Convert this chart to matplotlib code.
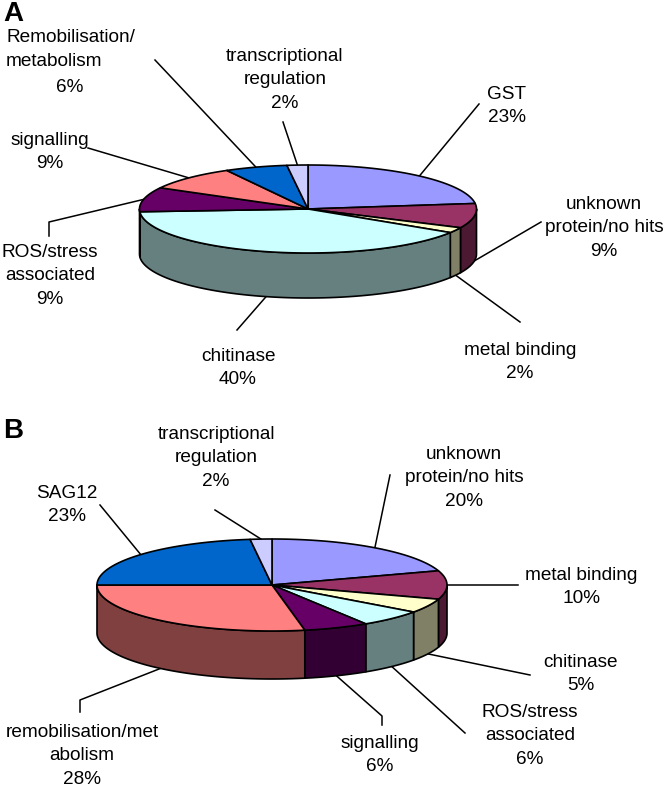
import numpy as np
import matplotlib
matplotlib.use('Agg')
import matplotlib.pyplot as plt

plt.rcParams['font.family'] = ['Liberation Sans', 'DejaVu Sans']

# top slice colours and the darker colours of the walls
top_colors = ['#9999FF', '#993366', '#FFFFCC', '#CCFFFF', '#660066', '#FF8080', '#0066CC', '#CCCCFF']
side_colors = ['#4C4C80', '#4C1933', '#808066', '#668080', '#330033', '#804040', '#003366', '#666680']

# pie A
labels_a = ['GST\n23%', 'unknown\nprotein/no hits\n9%', 'metal binding\n2%', 'chitinase\n40%',
            'ROS/stress\nassociated\n9%', 'signalling\n9%', 'Remobilisation/\nmetabolism\n6%',
            'transcriptional\nregulation\n2%']
values_a = [23, 9, 2, 40, 9, 9, 6, 2]
label_pos_a = [(507, 106), (604, 228), (520, 362), (238, 368), (50, 276), (50, 152), (70, 62), (285, 80)]
# where the leader lines end, next to the labels
leader_a = [[(479, 104)], [(541, 222)], [(520, 322)], [(237, 330)], [(49, 222), (49, 236)], [(88, 148)],
            [(155, 60)], [(283, 122)]]

# pie B
labels_b = ['unknown\nprotein/no hits\n20%', 'metal binding\n10%', 'chitinase\n5%', 'ROS/stress\nassociated\n6%',
            'signalling\n6%', 'remobilisation/met\nabolism\n28%', 'SAG12\n23%', 'transcriptional\nregulation\n2%']
values_b = [20, 10, 5, 6, 6, 28, 23, 2]
label_pos_b = [(464, 478), (581, 587), (581, 674), (530, 736), (380, 755), (82, 756), (67, 505), (216, 458)]
leader_b = [[(390, 475)], [(518, 585)], [(530, 675)], [(465, 733)], [(382, 716), (382, 725)],
            [(80, 700), (80, 712)], [(100, 505)], [(215, 510)]]

fig = plt.figure(figsize=(6.64, 7.90), dpi=100)
ax = fig.add_axes([0, 0, 1, 1])
ax.set_xlim(0, 664)
ax.set_ylim(790, 0)
ax.axis('off')


def arc(cx, cy, rx, ry, a0, a1):
    # angles are clockwise from the top of the pie
    t = np.radians(np.linspace(a0, a1, max(int(abs(a1 - a0)) * 2, 2)))
    return cx + rx * np.sin(t), cy - ry * np.cos(t)


def draw_pie(values, labels, label_pos, leaders, cx, cy, rx, ry, depth):
    edges = np.cumsum([0] + values) * 3.6

    # walls, only the front half of the pie shows them
    for i in range(len(values)):
        a0 = max(edges[i], 90)
        a1 = min(edges[i + 1], 270)
        if a1 <= a0:
            continue
        x, y = arc(cx, cy, rx, ry, a0, a1)
        ax.fill(np.r_[x, x[::-1]], np.r_[y, y[::-1] + depth], facecolor=side_colors[i],
                edgecolor='black', lw=1.2, joinstyle='round', zorder=2)

    # top of the pie
    for i in range(len(values)):
        x, y = arc(cx, cy, rx, ry, edges[i], edges[i + 1])
        ax.fill(np.r_[cx, x], np.r_[cy, y], facecolor=top_colors[i],
                edgecolor='black', lw=1.2, joinstyle='round', zorder=3)

    # leader lines start from the middle of each slice's outer edge
    for i in range(len(values)):
        mid = (edges[i] + edges[i + 1]) / 2
        x0, y0 = arc(cx, cy, rx, ry, mid, mid)
        x0, y0 = x0[0], y0[0]
        if np.cos(np.radians(mid)) < 0:
            y0 += depth
        px = [x0] + [p[0] for p in leaders[i]]
        py = [y0] + [p[1] for p in leaders[i]]
        ax.plot(px, py, color='black', lw=1.1, zorder=1)

        tx, ty = label_pos[i]
        if labels[i].startswith('Remobilisation'):
            # this label is not centred in the original
            parts = labels[i].split('\n')
            ax.text(6, ty - 25, parts[0], ha='left', va='center', fontsize=13.7)
            ax.text(6, ty, parts[1], ha='left', va='center', fontsize=13.7)
            ax.text(tx, ty + 26, parts[2], ha='center', va='center', fontsize=13.7)
        else:
            ax.text(tx, ty, labels[i], ha='center', va='center', fontsize=13.7, linespacing=1.48)


draw_pie(values_a, labels_a, label_pos_a, leader_a, 308, 209, 168.5, 44, 45)
draw_pie(values_b, labels_b, label_pos_b, leader_b, 272, 585, 175, 46, 48)

ax.text(3, 14, 'A', fontsize=20, fontweight='bold', ha='left', va='center')
ax.text(3, 431, 'B', fontsize=20, fontweight='bold', ha='left', va='center')

fig.savefig('out.png', dpi=100)
